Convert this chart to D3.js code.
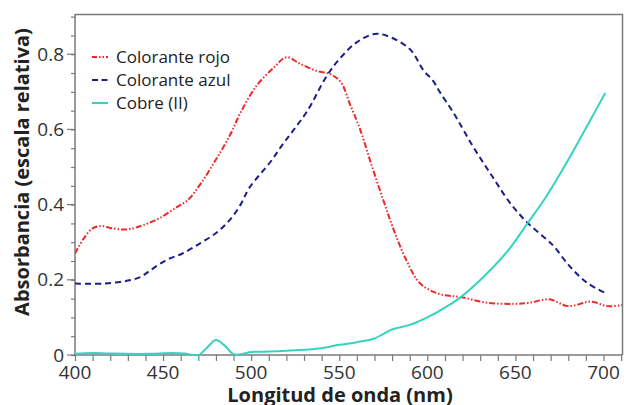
<!DOCTYPE html>
<html><head><meta charset="utf-8">
<script src="https://cdn.jsdelivr.net/npm/d3@7"></script>
<style>body{margin:0;background:#fff}svg{display:block}</style>
</head><body>
<svg id="chart" width="624" height="405"></svg>
<script>
const seriesNames = ["Colorante rojo", "Colorante azul", "Cobre (II)"];
const rojo = [[400,.27],[405,.31],[410,.337],[415,.343],[420,.338],[426,.334],[432,.336],[439,.346],[448,.364],[458,.394],[464,.412],[472,.46],[480,.52],[488,.585],[494,.645],[503,.716],[513,.765],[520,.792],[528,.774],[537,.756],[545,.747],[551,.725],[556,.668],[562,.598],[568,.51],[575,.412],[581,.332],[588,.253],[596,.19],[607,.162],[619,.154],[634,.139],[649,.136],[658,.139],[669,.148],[680,.130],[693,.142],[702,.130],[711,.133]];
const azul = [[400,.19],[416,.19],[429,.197],[437,.207],[443,.226],[452,.253],[461,.27],[471,.297],[481,.328],[488,.36],[494,.40],[499,.445],[511,.514],[518,.561],[524,.598],[532,.65],[543,.743],[551,.792],[560,.832],[570,.854],[577,.849],[590,.814],[598,.756],[603,.731],[607,.70],[615,.643],[626,.554],[637,.474],[647,.404],[657,.351],[668,.306],[672,.288],[681,.235],[691,.191],[701,.165]];
const cobre = [[400,.003],[410,.005],[420,.004],[440,.003],[455,.005],[462,.004],[470,0],[475,.02],[480,.04],[485,.025],[490,.002],[495,.003],[500,.008],[510,.009],[520,.011],[530,.014],[540,.018],[550,.027],[560,.034],[570,.044],[575,.056],[580,.068],[590,.08],[600,.10],[610,.126],[619,.154],[632,.208],[646,.279],[657,.351],[668,.425],[680,.519],[691,.612],[701,.697]];
const xTickLabels = [400,450,500,550,600,650,700];
const yTickLabels = [0,0.2,0.4,0.6,0.8];

const svg = d3.select("#chart");
const m = {l:75, r:622, t:14, b:355};
const x = d3.scaleLinear().domain([400,710.5]).range([m.l, m.r]);
const y = d3.scaleLinear().domain([0,0.907]).range([m.b, m.t]);
const axisCol = "#7a7a7a";

// frame top/right
svg.append("path").attr("d", `M${m.l},${m.t+0.5}H${m.r+0.5}V${m.b}`)
  .attr("fill","none").attr("stroke",axisCol).attr("stroke-width",1.5);

// x axis
const gx = svg.append("g").attr("transform",`translate(0,${m.b})`);
gx.call(d3.axisBottom(x).tickValues(d3.range(400,711,10)).tickSize(6).tickFormat(""));
gx.call(g=>g.select(".domain").remove());
gx.selectAll(".tick line").attr("stroke",axisCol).attr("stroke-width",1.2);
gx.append("line").attr("x1",m.l).attr("x2",m.r+0.5).attr("stroke",axisCol).attr("stroke-width",1.5);
gx.selectAll(".lbl").data(xTickLabels).join("text").attr("class","lbl")
  .attr("x",d=>x(d)).attr("y",24).attr("text-anchor","middle")
  .attr("font-family","Open Sans, sans-serif").attr("font-size",19).attr("fill","#333").text(d=>d);

// y axis
const gy = svg.append("g").attr("transform",`translate(${m.l},0)`);
gy.call(d3.axisLeft(y).tickValues(d3.range(0,0.901,0.05)).tickSize(4).tickFormat(""));
gy.call(g=>g.select(".domain").remove());
gy.selectAll(".tick line").attr("stroke",axisCol).attr("stroke-width",1.2);
gy.selectAll(".maj").data(yTickLabels).join("line").attr("class","maj")
  .attr("x1",-8).attr("x2",0).attr("y1",d=>y(d)).attr("y2",d=>y(d)).attr("stroke",axisCol).attr("stroke-width",1.2);
gy.append("line").attr("y1",m.t).attr("y2",m.b+0.5).attr("stroke",axisCol).attr("stroke-width",1.5);
gy.selectAll(".lbl").data(yTickLabels).join("text").attr("class","lbl")
  .attr("x",-11).attr("y",d=>y(d)).attr("dy","0.35em").attr("text-anchor","end")
  .attr("font-family","Open Sans, sans-serif").attr("font-size",19).attr("fill","#333").text(d=>d===0?"0":d.toFixed(1));

// titles
svg.append("text").attr("x",340).attr("y",402).attr("text-anchor","middle")
  .attr("font-family","Open Sans, sans-serif").attr("font-weight","bold").attr("font-size",20).attr("fill","#222")
  .text("Longitud de onda (nm)");
svg.append("text").attr("transform","translate(29,172) rotate(-90)").attr("text-anchor","middle")
  .attr("font-family","Open Sans, sans-serif").attr("font-weight","bold").attr("font-size",20).attr("fill","#222")
  .text("Absorbancia (escala relativa)");

const styles = [
  {data:rojo, color:"#f02828", dash:"6,2,1.5,2,1.5,2"},
  {data:azul, color:"#1c1c8a", dash:"6,4"},
  {data:cobre, color:"#35d3c0", dash:null}
];
const line = d3.line().x(d=>x(d[0])).y(d=>y(d[1])).curve(d3.curveCatmullRom.alpha(0.5));
const clip = svg.append("clipPath").attr("id","c").append("rect").attr("x",m.l).attr("y",m.t).attr("width",m.r-m.l).attr("height",m.b-m.t+2);
styles.forEach(s=>{
  svg.append("path").datum(s.data).attr("d",line).attr("fill","none")
    .attr("stroke",s.color).attr("stroke-width",2).attr("stroke-dasharray",s.dash).attr("clip-path","url(#c)");
});

// legend
const lg = svg.append("g");
styles.forEach((s,i)=>{
  const yy = 57 + i*23;
  lg.append("line").attr("x1",92).attr("x2",108).attr("y1",yy).attr("y2",yy)
    .attr("stroke",s.color).attr("stroke-width",2).attr("stroke-dasharray", i===0?"5,2,1.5,2,1.5,2": (i===1?"6,3.5":null));
  lg.append("text").attr("x",116).attr("y",yy).attr("dy","0.35em")
    .attr("font-family","Open Sans, sans-serif").attr("font-size",17).attr("fill","#222").text(seriesNames[i]);
});
</script>
</body></html>
